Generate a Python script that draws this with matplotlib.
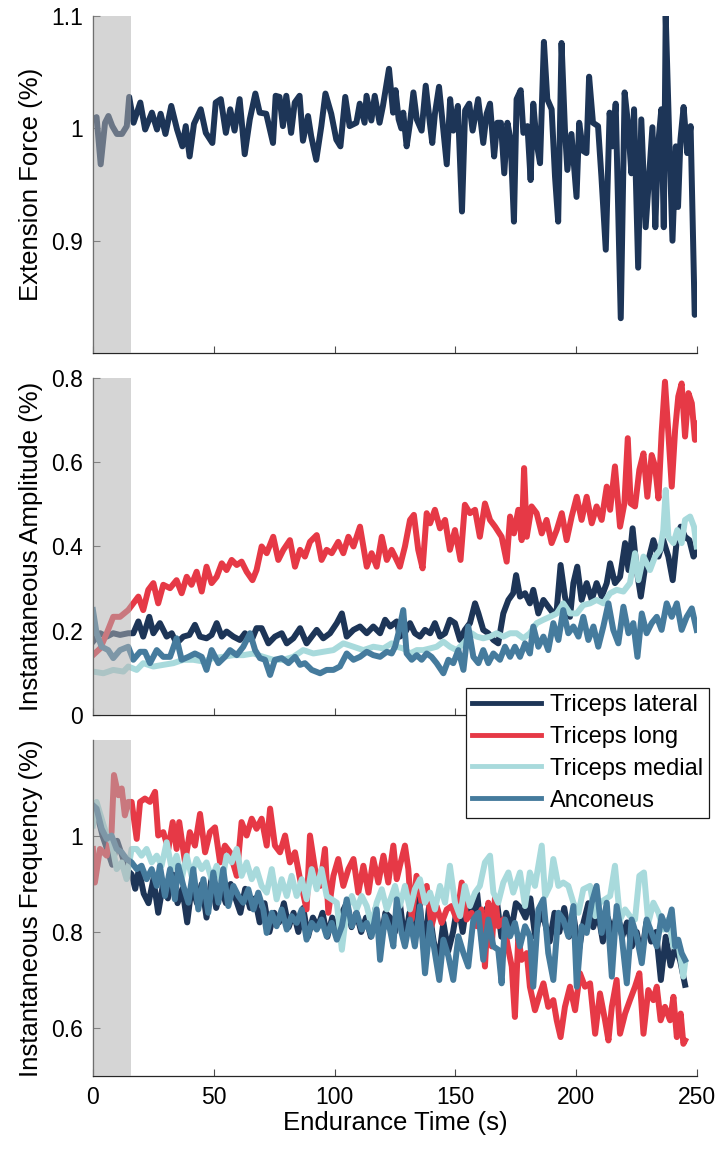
import matplotlib
matplotlib.use("Agg")
import matplotlib.pyplot as plt

plt.rcParams['font.family'] = ['Liberation Sans', 'DejaVu Sans']

navy = '#1d3557'
red = '#e63946'
teal = '#a8dadc'
steel = '#457b9d'

# --- extension force ---
force_t = [0, 1.5, 3.2, 5, 6.4, 8, 9.9, 12, 14, 15, 16.8, 19.6, 21.6, 24.4, 26.5, 28, 30, 32.4,
           34.8, 37, 38.4, 40, 41.8, 44.6, 46.7, 49.4, 50.8, 52.9, 55, 56.8, 58.6, 60.7, 62.8,
           64.9, 67.2, 69, 71.7, 74.5, 75.6, 77.2, 78.6, 80, 82, 83.5, 85.5, 86.9, 89, 90.3,
           92.4, 94.5, 96.2, 98.6, 100.7, 102.4, 104.4, 106.2, 109, 110.4, 112.4, 113.2, 115.2,
           116.6, 118.6, 120, 122.5, 124.2, 125.2, 126.5, 127.6, 128.4, 129.8, 131.2, 132.6, 134,
           136, 137.7, 139.4, 140.4, 141.5, 143.2, 144.7, 146.4, 147.8, 149.1, 151, 152.7, 154,
           155.7, 157.1, 159.4, 161.5, 162.9, 164.3, 166, 167.3, 168.8, 170.2, 171.5, 172.8,
           174.2, 175.3, 177, 178.1, 179.8, 181.1, 182.2, 183.6, 185, 186.6, 188, 189.8, 191.2,
           192.5, 193.9, 195.3, 196.3, 198, 200.1, 201.2, 202.8, 204.2, 205.3, 206.9, 209,
           210.4, 212.2, 213.8, 215, 216.3, 218.4, 220, 221.4, 222.8, 223.9, 225.6, 226.9,
           228.7, 230.1, 231.5, 232.7, 233.8, 235.2, 236.2, 237, 238.4, 239.8, 241.2, 242.1,
           243.1, 244.4, 245.9, 247.3, 249]
force_v = [1.008, 1.01, 0.968, 1.005, 1.011, 1.002, 0.995, 0.995, 1.002, 1.028, 1.005, 1.023,
           0.999, 1.014, 0.999, 1.013, 0.995, 1.02, 0.999, 0.984, 1.002, 0.975, 1.004, 1.017,
           0.996, 0.987, 1.023, 1.026, 0.996, 1.017, 0.998, 1.026, 0.977, 1.008, 1.031, 1.014,
           1.013, 0.987, 1.029, 1.028, 1.002, 1.029, 0.996, 1.023, 1.029, 0.989, 1.011, 0.993,
           0.972, 1.002, 1.031, 1.013, 0.99, 0.984, 1.028, 1.002, 1.005, 1.022, 1.005, 1.029,
           1.007, 1.029, 1.005, 1.02, 1.053, 1.014, 1.034, 1.008, 1.0, 1.014, 0.984, 1.005,
           1.032, 1.008, 0.998, 1.038, 1.005, 0.987, 1.013, 1.037, 1.005, 0.968, 1.026, 0.998,
           1.02, 0.926, 1.016, 1.022, 0.998, 1.026, 0.987, 1.013, 1.022, 0.975, 1.005, 1.005,
           0.96, 1.005, 0.99, 0.917, 1.026, 1.034, 0.996, 1.002, 0.954, 1.022, 0.987, 0.969,
           1.077, 1.026, 1.017, 0.957, 0.917, 1.076, 0.999, 0.963, 0.995, 0.939, 1.005, 0.98,
           0.978, 1.046, 1.005, 1.002, 0.957, 0.892, 1.014, 0.984, 1.022, 0.831, 1.032, 1.004,
           0.96, 1.017, 0.876, 1.008, 0.912, 0.957, 1.001, 0.912, 0.984, 1.017, 0.912, 1.10,
           0.996, 0.9, 0.984, 0.93, 0.99, 1.019, 0.978, 1.002, 0.834]

# --- instantaneous amplitude ---
amp_lat_t = [0, 3, 5.7, 8.4, 11.2, 14.6, 16.7, 18.8, 20.8, 23.3, 25, 27.7, 30.5, 32.6, 34.6,
             37.4, 39.9, 42.2, 44.3, 47, 49.1, 51.2, 53.3, 55.3, 58.1, 60.8, 62.9, 65.7, 67.7,
             69.8, 72.6, 75.3, 78.1, 80.2, 82.9, 85.7, 88.4, 90.5, 92.6, 95.3, 98.1, 100.9,
             103, 105, 107.8, 110.5, 113.3, 116, 118.8, 120.9, 123, 125.7, 127, 129, 131.2,
             133.2, 135.3, 137.4, 139.5, 141.5, 143.6, 145.7, 147.7, 149.8, 151.9, 153.9, 156,
             158.1, 159.5, 161.5, 163.6, 165.7, 167.7, 169.8, 171.9, 173.9, 175.1, 176.7,
             178.8, 180.8, 182.2, 184.3, 186.4, 188.4, 190.5, 191.9, 193.5, 195.3, 197.4,
             198.8, 200.4, 202.2, 204.3, 206.4, 208.4, 210.5, 212.6, 214, 216, 218.1, 220.2,
             221.6, 223.3, 225, 226.7, 228.5, 230.2, 231.9, 234, 236, 238.1, 239.9, 241.6,
             243.2, 245, 246.8, 248.5, 249.8]
amp_lat_v = [0.174, 0.194, 0.186, 0.194, 0.19, 0.194, 0.194, 0.222, 0.186, 0.233, 0.194, 0.218,
             0.186, 0.194, 0.17, 0.186, 0.19, 0.214, 0.186, 0.182, 0.19, 0.218, 0.186, 0.198,
             0.186, 0.178, 0.194, 0.178, 0.206, 0.206, 0.17, 0.186, 0.194, 0.17, 0.182, 0.206,
             0.17, 0.186, 0.202, 0.182, 0.194, 0.218, 0.241, 0.186, 0.202, 0.21, 0.194, 0.21,
             0.194, 0.226, 0.21, 0.222, 0.186, 0.194, 0.218, 0.194, 0.186, 0.202, 0.194, 0.218,
             0.186, 0.194, 0.226, 0.218, 0.178, 0.202, 0.218, 0.265, 0.241, 0.202, 0.194, 0.178,
             0.17, 0.241, 0.273, 0.289, 0.332, 0.281, 0.289, 0.265, 0.297, 0.241, 0.273, 0.257,
             0.241, 0.249, 0.356, 0.281, 0.233, 0.313, 0.352, 0.273, 0.313, 0.273, 0.313, 0.281,
             0.313, 0.36, 0.313, 0.328, 0.408, 0.344, 0.443, 0.344, 0.281, 0.352, 0.376, 0.415,
             0.376, 0.415, 0.376, 0.32, 0.415, 0.447, 0.423, 0.415, 0.376, 0.388]

amp_long_t = [0, 3, 5.7, 8.4, 11.2, 14.6, 16.7, 18.8, 20.8, 22.9, 25, 27, 29.1, 31.9, 34.6,
              36.7, 38.8, 40.8, 42.9, 45, 47, 49.1, 51.2, 53.3, 55.3, 57.4, 59.5, 61.5, 63.6,
              66, 67.7, 69.8, 71.9, 74.6, 76.7, 78.8, 81.5, 83.6, 85.7, 87.7, 89.8, 92.6, 94.6,
              96.7, 98.8, 101.5, 103.6, 105.7, 107.8, 110.5, 113.3, 115.3, 117.4, 119.5, 121.6,
              123.6, 125, 127, 129.1, 131.2, 132.8, 134.6, 136.4, 138.1, 139.5, 141.5, 143.6,
              145.7, 147.7, 149.8, 152.1, 153.9, 156, 158.1, 160.1, 162.2, 164.3, 166.4, 169.1,
              171.2, 172.6, 174.2, 176, 177.4, 178.4, 179.5, 181.5, 183.6, 185.7, 187.7, 189.8,
              191.9, 194, 196, 198.1, 200.2, 202.2, 204.3, 206.4, 208.4, 210.5, 212.6, 214, 216,
              218.1, 219.9, 221.3, 222.5, 224.3, 226.1, 227.8, 229.4, 231.2, 232.6, 234, 235.3,
              236.7, 238.1, 239.5, 240.9, 242.2, 243.6, 245, 246.4, 247.8, 249.1, 249.8]
amp_long_v = [0.142, 0.158, 0.194, 0.233, 0.233, 0.249, 0.265, 0.281, 0.249, 0.297, 0.313,
              0.265, 0.309, 0.301, 0.32, 0.289, 0.328, 0.309, 0.34, 0.293, 0.352, 0.313, 0.328,
              0.36, 0.344, 0.368, 0.356, 0.364, 0.34, 0.32, 0.344, 0.4, 0.384, 0.423, 0.368,
              0.392, 0.415, 0.352, 0.392, 0.376, 0.411, 0.427, 0.368, 0.392, 0.384, 0.411, 0.384,
              0.423, 0.4, 0.447, 0.352, 0.384, 0.352, 0.423, 0.368, 0.392, 0.376, 0.352, 0.4,
              0.463, 0.475, 0.392, 0.348, 0.479, 0.455, 0.487, 0.443, 0.463, 0.392, 0.439, 0.368,
              0.499, 0.479, 0.487, 0.423, 0.502, 0.463, 0.447, 0.423, 0.364, 0.471, 0.431, 0.487,
              0.415, 0.586, 0.423, 0.495, 0.479, 0.431, 0.463, 0.408, 0.439, 0.479, 0.415, 0.471,
              0.518, 0.463, 0.518, 0.455, 0.495, 0.463, 0.542, 0.487, 0.59, 0.447, 0.502, 0.657,
              0.502, 0.495, 0.582, 0.621, 0.518, 0.617, 0.59, 0.514, 0.669, 0.791, 0.669, 0.542,
              0.677, 0.756, 0.787, 0.661, 0.764, 0.74, 0.653, 0.692]

amp_med_t = [0, 4.3, 8.4, 12.6, 14.6, 18.1, 20.8, 25, 29.1, 33.3, 37.4, 41.5, 45.7, 49.8, 53.9,
             58.1, 62.2, 66.4, 70.5, 74.6, 78.8, 82.9, 87, 91.2, 95.3, 99.5, 103.6, 107.8, 111.9,
             116, 120.2, 123.6, 125.7, 128.4, 131.2, 134, 136.7, 139.5, 142.2, 145, 147.7, 150.5,
             153.3, 156.7, 158.8, 161.5, 164.3, 167, 169.8, 172.6, 175.3, 178.1, 180.8, 183.6,
             186.4, 189.1, 191.9, 194.6, 197.4, 200.2, 202.9, 205.7, 208.4, 211.2, 214, 216.7,
             219.5, 222.2, 224.3, 225.7, 227.8, 230.5, 232.6, 234.7, 236, 237, 238.1, 240.2,
             241.8, 243.6, 245, 247.1, 248.7, 249.8]
amp_med_v = [0.103, 0.099, 0.107, 0.103, 0.115, 0.107, 0.123, 0.115, 0.119, 0.123, 0.131, 0.131,
             0.127, 0.135, 0.138, 0.142, 0.142, 0.146, 0.138, 0.131, 0.131, 0.138, 0.154, 0.146,
             0.15, 0.154, 0.17, 0.162, 0.154, 0.162, 0.158, 0.17, 0.162, 0.158, 0.146, 0.154,
             0.154, 0.158, 0.162, 0.174, 0.162, 0.154, 0.17, 0.194, 0.186, 0.182, 0.186, 0.194,
             0.186, 0.194, 0.194, 0.182, 0.194, 0.218, 0.226, 0.233, 0.241, 0.265, 0.241, 0.241,
             0.261, 0.265, 0.273, 0.265, 0.289, 0.297, 0.293, 0.313, 0.384, 0.32, 0.376, 0.344,
             0.376, 0.392, 0.439, 0.534, 0.423, 0.408, 0.439, 0.408, 0.463, 0.471, 0.447, 0.4]

amp_anc_t = [0, 1.5, 3.6, 6.3, 8.4, 11.2, 14.6, 16.7, 19.5, 21.5, 23.6, 26.4, 29.1, 31.9, 34.6,
             36.7, 39.5, 42.2, 45, 47, 49.1, 51.9, 54.6, 56.7, 59.5, 62.2, 65, 67.1, 69.1, 71.2,
             73.3, 75.3, 78.1, 80.9, 83.6, 85.7, 87.7, 90.5, 94, 96.7, 99.5, 102.2, 105, 107.8,
             110.5, 113.3, 116, 118.8, 121.6, 123.6, 125, 126.4, 128.4, 129.8, 131.9, 134, 136,
             138.1, 140.1, 142.2, 145, 147.1, 149.1, 151.2, 153.3, 155.3, 157.4, 159.5, 161.5,
             163.6, 165.7, 168.4, 170.5, 172.6, 174.6, 176.7, 178.8, 180.8, 182.2, 184.3, 186.4,
             188.4, 190.5, 192.6, 194.6, 196.7, 198.8, 200.9, 202.9, 205, 207.1, 209.1, 211.2,
             213.3, 215.3, 217.4, 219.5, 221.6, 223.6, 225.3, 227.1, 229.1, 231.2, 233.3, 235.3,
             237.4, 239.5, 241.6, 243.6, 245.7, 247.8, 249.8]
amp_anc_v = [0.249, 0.194, 0.162, 0.154, 0.135, 0.154, 0.162, 0.131, 0.15, 0.15, 0.123, 0.154,
             0.138, 0.138, 0.182, 0.131, 0.138, 0.146, 0.138, 0.107, 0.154, 0.123, 0.138, 0.154,
             0.142, 0.162, 0.194, 0.154, 0.135, 0.131, 0.095, 0.131, 0.135, 0.123, 0.138, 0.119,
             0.123, 0.107, 0.099, 0.107, 0.107, 0.115, 0.146, 0.131, 0.138, 0.15, 0.142, 0.138,
             0.15, 0.146, 0.162, 0.194, 0.249, 0.146, 0.131, 0.142, 0.131, 0.146, 0.138, 0.123,
             0.099, 0.131, 0.123, 0.154, 0.107, 0.21, 0.138, 0.123, 0.154, 0.123, 0.146, 0.131,
             0.162, 0.138, 0.162, 0.138, 0.17, 0.146, 0.21, 0.162, 0.186, 0.154, 0.218, 0.178,
             0.249, 0.194, 0.21, 0.186, 0.233, 0.178, 0.21, 0.162, 0.21, 0.265, 0.202, 0.17,
             0.257, 0.194, 0.218, 0.138, 0.241, 0.194, 0.218, 0.233, 0.202, 0.265, 0.233, 0.265,
             0.202, 0.233, 0.253, 0.202]

# --- instantaneous frequency ---
freq_lat_t = [0, 2, 4, 6, 8, 10, 12, 14, 16, 17.5, 19, 21, 23, 25, 27, 29, 31, 33, 35, 37, 39,
              41, 43, 45, 47, 49, 51, 53, 55, 57, 59, 61, 63, 65, 67, 69, 71, 73, 75, 77, 79, 81,
              83, 85, 87, 89, 91, 93, 95, 97, 99, 101, 103, 105, 107, 109, 111, 113, 115, 117,
              119, 121, 123, 125, 127, 129, 131, 133, 135, 137, 139, 141, 143, 145, 147, 149,
              151, 153, 155, 157, 159, 161, 163, 165, 167, 169, 171, 173, 175, 177, 179, 181,
              183, 185, 187, 189, 191, 193, 195, 197, 199, 201, 203, 205, 207, 209, 211, 213,
              215, 217, 219, 221, 223, 225, 227, 229, 231, 233, 235, 237, 239, 241, 243, 245]
freq_lat_v = [1.05, 1.04, 1.0, 0.97, 0.94, 0.99, 0.96, 0.93, 0.92, 0.89, 0.93, 0.88, 0.86, 0.91,
              0.84, 0.90, 0.87, 0.92, 0.86, 0.89, 0.82, 0.90, 0.86, 0.90, 0.83, 0.91, 0.85, 0.89,
              0.86, 0.90, 0.87, 0.84, 0.89, 0.85, 0.87, 0.82, 0.86, 0.80, 0.84, 0.82, 0.86, 0.81,
              0.84, 0.80, 0.85, 0.79, 0.83, 0.81, 0.84, 0.79, 0.83, 0.80, 0.84, 0.86, 0.81, 0.84,
              0.80, 0.83, 0.79, 0.85, 0.78, 0.84, 0.83, 0.80, 0.86, 0.78, 0.84, 0.80, 0.87, 0.76,
              0.85, 0.78, 0.74, 0.82, 0.76, 0.80, 0.86, 0.80, 0.87, 0.84, 0.88, 0.78, 0.85, 0.83,
              0.87, 0.79, 0.84, 0.80, 0.86, 0.85, 0.83, 0.87, 0.79, 0.84, 0.82, 0.78, 0.84, 0.80,
              0.85, 0.79, 0.83, 0.76, 0.82, 0.86, 0.81, 0.84, 0.78, 0.83, 0.80, 0.84, 0.79, 0.82,
              0.77, 0.80, 0.75, 0.82, 0.78, 0.80, 0.70, 0.79, 0.73, 0.77, 0.74, 0.69]

freq_long_t = [0, 0.8, 2.9, 5.7, 7.7, 8.7, 10.5, 11.9, 13.2, 14.6, 16, 18.1, 19.5, 21.5, 23.6,
               25.7, 27, 29.1, 31.2, 33, 34.6, 35.7, 38.1, 40.1, 42.2, 44.3, 46.4, 48.4, 50.5,
               52.6, 54.6, 56.7, 59.5, 61.5, 63.6, 65.7, 67.7, 69.8, 71.9, 73.3, 75.3, 77.4,
               79.5, 81.5, 83.6, 85.7, 88.4, 89.8, 91.9, 94, 96, 97.4, 99.5, 101.5, 103.6, 105.7,
               107.8, 109.8, 111.9, 114, 116, 118.1, 120.2, 122.2, 124.3, 125.7, 127, 129.1,
               130.5, 131.9, 133.9, 136, 138.1, 140.1, 142.2, 144.3, 146.4, 148.4, 150.5, 152.6,
               154.6, 156.7, 158.8, 160.8, 162.2, 163.6, 165, 166.4, 167.7, 169.8, 171.9, 173.3,
               174.6, 176, 177.4, 179.5, 180.8, 182.9, 185, 186.4, 188.4, 190.5, 191.9, 193.5,
               195.3, 197.4, 199.5, 201.5, 203.6, 205.7, 207.8, 209.8, 211.9, 213.3, 214.7,
               216.7, 218.1, 220.2, 222.2, 224.3, 226.1, 227.8, 229.8, 231.9, 233.3, 234.9,
               236.7, 238.8, 240.2, 241.6, 243.2, 244.3, 245]
freq_long_v = [0.973, 0.903, 0.973, 0.959, 1.008, 1.127, 1.085, 1.099, 1.043, 1.071, 1.071,
               0.994, 1.071, 1.078, 1.071, 1.092, 1.001, 1.008, 0.973, 1.029, 0.973, 1.029,
               0.945, 1.008, 0.98, 1.046, 0.966, 1.008, 1.018, 0.945, 0.98, 0.966, 0.917, 1.029,
               1.001, 1.036, 1.015, 1.036, 0.98, 1.057, 0.98, 0.966, 1.001, 0.945, 0.966, 0.91,
               0.847, 1.001, 0.931, 0.896, 0.973, 0.84, 0.917, 0.952, 0.896, 0.931, 0.952, 0.882,
               0.938, 0.882, 0.952, 0.903, 0.959, 0.903, 0.98, 0.91, 0.938, 0.98, 0.931, 0.826,
               0.917, 0.861, 0.896, 0.812, 0.854, 0.819, 0.847, 0.854, 0.826, 0.903, 0.826, 0.84,
               0.812, 0.847, 0.728, 0.861, 0.77, 0.875, 0.812, 0.826, 0.763, 0.728, 0.623, 0.791,
               0.742, 0.756, 0.686, 0.637, 0.672, 0.693, 0.644, 0.658, 0.616, 0.581, 0.644, 0.686,
               0.637, 0.714, 0.686, 0.693, 0.588, 0.672, 0.616, 0.574, 0.644, 0.7, 0.588, 0.63,
               0.658, 0.686, 0.714, 0.588, 0.679, 0.658, 0.686, 0.616, 0.644, 0.616, 0.665, 0.581,
               0.63, 0.567, 0.574]

freq_med_t = [0, 1.5, 3.6, 5.7, 7.7, 9.8, 11.9, 13.9, 16, 18.1, 20.1, 22.2, 24.3, 26.4, 28.4,
              30.5, 32.6, 34.6, 36.7, 38.8, 40.8, 42.9, 45, 47, 49.1, 51.2, 53.3, 55.3, 57.4,
              59.5, 61.5, 63.6, 65.7, 67.7, 69.8, 71.9, 74, 76, 78.1, 80.2, 82.2, 84.3, 86.4,
              88.4, 90.5, 92.6, 94.6, 96.7, 98.8, 100.9, 103, 105, 107.1, 109.1, 111.2, 113.3,
              115.3, 117.4, 119.5, 121.6, 123.6, 125, 127, 129.1, 131.2, 133.2, 135.3, 137.4,
              139.5, 141.5, 143.6, 145.7, 147.7, 149.8, 151.9, 153.9, 156, 158.1, 160.1, 162.2,
              164.3, 165.7, 167.7, 169.8, 171.9, 173.9, 176.7, 178.8, 180.8, 182.9, 185.7, 187.1,
              189.1, 190.5, 192.6, 194.6, 196.7, 198.8, 200.9, 202.9, 205.7, 207.8, 209.8, 211.9,
              214, 216, 218.1, 220.2, 222.2, 224.3, 226.1, 228, 229.8, 231.9, 234, 236, 238.1,
              240.2, 242.2, 244.3, 245]
freq_med_v = [1.022, 1.071, 1.036, 1.001, 0.987, 0.931, 0.945, 0.91, 0.973, 0.973, 0.959, 0.973,
              0.945, 0.959, 0.938, 0.987, 0.931, 0.959, 0.91, 0.959, 0.917, 0.952, 0.931, 0.945,
              0.91, 0.938, 0.903, 0.959, 0.945, 0.973, 0.917, 0.945, 0.91, 0.931, 0.896, 0.882,
              0.931, 0.868, 0.91, 0.875, 0.917, 0.875, 0.91, 0.868, 0.931, 0.889, 0.931, 0.875,
              0.868, 0.861, 0.763, 0.847, 0.875, 0.847, 0.875, 0.854, 0.812, 0.861, 0.889, 0.847,
              0.875, 0.896, 0.854, 0.896, 0.847, 0.889, 0.91, 0.861, 0.882, 0.847, 0.896, 0.861,
              0.938, 0.861, 0.833, 0.896, 0.854, 0.882, 0.896, 0.945, 0.959, 0.882, 0.861, 0.903,
              0.924, 0.882, 0.924, 0.854, 0.924, 0.896, 0.98, 0.875, 0.896, 0.952, 0.896, 0.903,
              0.896, 0.861, 0.84, 0.889, 0.896, 0.833, 0.861, 0.868, 0.875, 0.938, 0.826, 0.847,
              0.833, 0.826, 0.917, 0.924, 0.819, 0.861, 0.84, 0.805, 0.826, 0.77, 0.777, 0.707,
              0.735]

freq_anc_t = [0, 1.5, 3.6, 5.7, 7.7, 9.8, 11.9, 13.9, 16, 18.1, 20.1, 22.2, 24.3, 26.4, 27.7,
              29.8, 31.9, 33.9, 35.3, 37.4, 39.5, 41.5, 43.6, 45.7, 47.7, 49.8, 51.9, 53.9, 56,
              58.1, 60.2, 62.2, 64.3, 66.4, 68.4, 70.5, 71.9, 74, 76, 78.1, 80.2, 82.2, 84.3,
              86.4, 88.4, 90.5, 92.6, 94.6, 96.7, 98.8, 100.9, 103, 105, 107.1, 109.1, 111.2,
              113.3, 115.3, 117.4, 118.8, 120.9, 122.9, 124.3, 125.7, 127.7, 129.1, 131.2, 133.2,
              135.3, 137.4, 139.5, 141.5, 143.3, 145, 147.1, 149.1, 151.2, 153.3, 155.3, 157.4,
              159.5, 161.5, 163.6, 165.7, 167.7, 169.1, 170.5, 172.6, 174.6, 176.7, 178.8, 180.8,
              182.2, 184.3, 186.4, 188.4, 190.5, 192.6, 194.6, 196.7, 198.8, 200.2, 202.2, 204.3,
              206.4, 208.4, 210.5, 212.6, 214.7, 216.7, 218.8, 220.9, 222.9, 225, 227.1, 229.1,
              231.2, 233.3, 235.3, 237.4, 239.5, 240.9, 242.2, 243.6, 245]
freq_anc_v = [1.064, 1.057, 1.015, 0.994, 1.001, 0.973, 0.966, 0.952, 0.945, 0.931, 0.938, 0.91,
              0.931, 0.896, 0.938, 0.875, 0.931, 0.868, 0.938, 0.896, 0.861, 0.931, 0.847, 0.91,
              0.84, 0.924, 0.861, 0.931, 0.854, 0.896, 0.875, 0.861, 0.889, 0.847, 0.882, 0.847,
              0.798, 0.84, 0.812, 0.847, 0.805, 0.833, 0.819, 0.847, 0.784, 0.819, 0.805, 0.826,
              0.791, 0.819, 0.784, 0.812, 0.868, 0.812, 0.84, 0.805, 0.819, 0.791, 0.847, 0.742,
              0.833, 0.805, 0.77, 0.868, 0.798, 0.77, 0.826, 0.77, 0.854, 0.714, 0.819, 0.756,
              0.7, 0.784, 0.749, 0.7, 0.791, 0.756, 0.728, 0.826, 0.84, 0.742, 0.826, 0.77, 0.763,
              0.693, 0.826, 0.791, 0.819, 0.77, 0.812, 0.791, 0.686, 0.847, 0.868, 0.756, 0.7,
              0.84, 0.826, 0.791, 0.854, 0.686, 0.812, 0.798, 0.861, 0.896, 0.798, 0.861, 0.707,
              0.854, 0.791, 0.693, 0.826, 0.791, 0.735, 0.826, 0.798, 0.77, 0.833, 0.805, 0.847,
              0.77, 0.784, 0.756, 0.742]

labels = ['Triceps lateral', 'Triceps long', 'Triceps medial', 'Anconeus']
colors = [navy, red, teal, steel]
shade_end = 15.6
fs_tick = 16.5
fs_label = 18.5
fs_leg = 17
lw = 4.3

fig = plt.figure(figsize=(7.15, 11.53), dpi=100)
ax1 = fig.add_axes([0.130, 0.6938, 0.845, 0.2923])
ax2 = fig.add_axes([0.130, 0.3799, 0.845, 0.2923])
ax3 = fig.add_axes([0.130, 0.0668, 0.845, 0.2914])

ax1.plot(force_t, force_v, color=navy, lw=lw, solid_joinstyle='round', solid_capstyle='round')

handles = []
for t, v, c, lab in zip([amp_lat_t, amp_long_t, amp_med_t, amp_anc_t],
                        [amp_lat_v, amp_long_v, amp_med_v, amp_anc_v], colors, labels):
    h, = ax2.plot(t, v, color=c, lw=lw, label=lab, solid_joinstyle='round')
    handles.append(h)

for t, v, c in zip([freq_lat_t, freq_long_t, freq_med_t, freq_anc_t],
                   [freq_lat_v, freq_long_v, freq_med_v, freq_anc_v], colors):
    ax3.plot(t, v, color=c, lw=lw, solid_joinstyle='round')

ax1.set_ylim(0.8, 1.1)
ax1.set_yticks([0.9, 1.0, 1.1])
ax1.set_yticklabels(['0.9', '1', '1.1'])
ax1.set_ylabel('Extension Force (%)', fontsize=fs_label, labelpad=6)

ax2.set_ylim(0, 0.8)
ax2.set_yticks([0, 0.2, 0.4, 0.6, 0.8])
ax2.set_yticklabels(['0', '0.2', '0.4', '0.6', '0.8'])
ax2.set_ylabel('Instantaneous Amplitude (%)', fontsize=fs_label, labelpad=6)

ax3.set_ylim(0.5, 1.2)
ax3.set_yticks([0.6, 0.8, 1.0])
ax3.set_yticklabels(['0.6', '0.8', '1'])
ax3.set_ylabel('Instantaneous Frequency (%)', fontsize=fs_label, labelpad=6)
ax3.set_xlabel('Endurance Time (s)', fontsize=fs_label, labelpad=2)

for ax in (ax1, ax2, ax3):
    ax.set_xlim(0, 250)
    ax.set_xticks([0, 50, 100, 150, 200, 250])
    ax.axvspan(0, shade_end, color='#b1b1b1', alpha=0.53, lw=0, zorder=5)
    for s in ('top', 'right'):
        ax.spines[s].set_visible(False)
    for s in ('left', 'bottom'):
        ax.spines[s].set_color('0.15')
        ax.spines[s].set_linewidth(0.9)
    ax.tick_params(direction='in', length=5, width=0.8, color='0.3',
                   labelsize=fs_tick, pad=7)

ax1.tick_params(axis='x', labelbottom=False)
ax2.tick_params(axis='x', labelbottom=False)

fig.legend(handles=handles, labels=labels, loc='upper left',
           bbox_to_anchor=(0.652, 0.4033), bbox_transform=fig.transFigure,
           fontsize=fs_leg, frameon=True, fancybox=False, framealpha=1,
           edgecolor='0.1', handlelength=2.9, handletextpad=0.4,
           labelspacing=0.42, borderpad=0.25, borderaxespad=0)
leg = fig.legends[0]
leg.get_frame().set_linewidth(0.9)
for line in leg.get_lines():
    line.set_linewidth(3.5)

fig.savefig('out.png', dpi=100)
